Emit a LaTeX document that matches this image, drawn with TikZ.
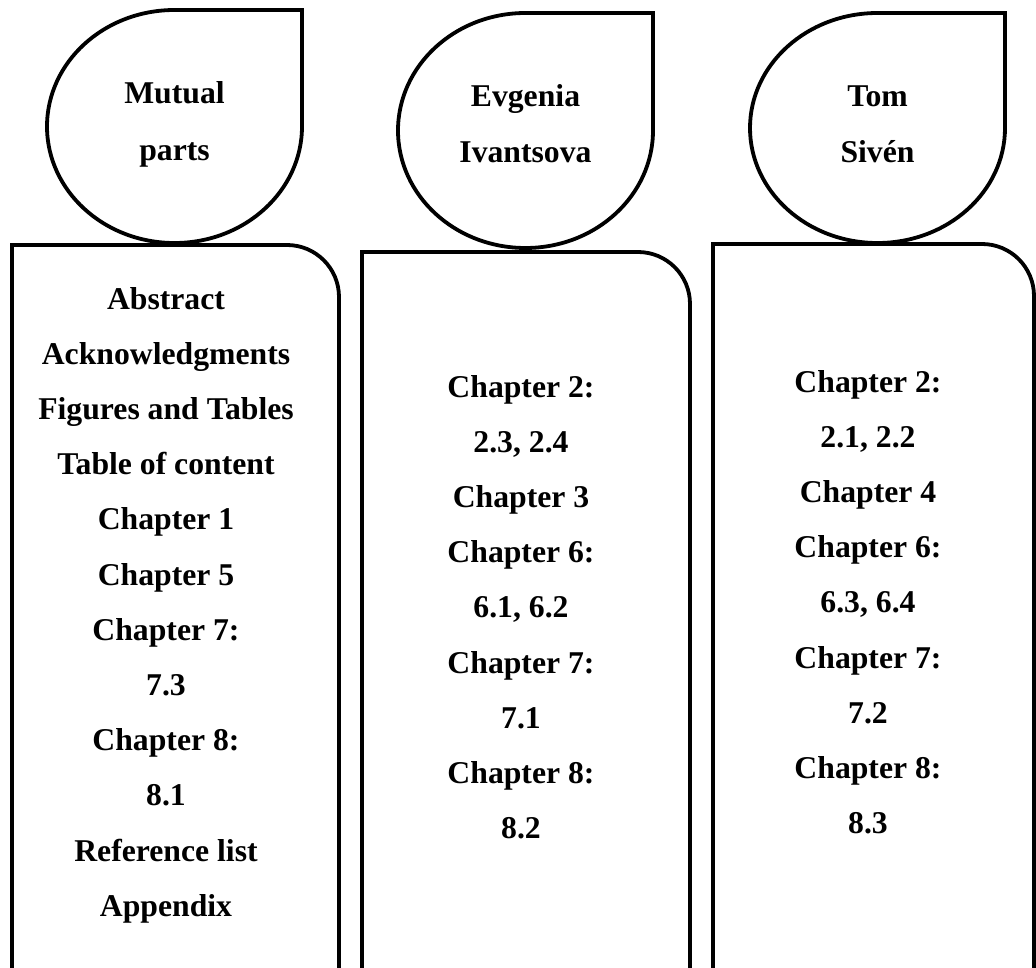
\documentclass[tikz,border=0pt]{standalone}
\usepackage{fontspec}
\setmainfont{Liberation Serif}
\begin{document}
\begin{tikzpicture}[x=1pt,y=-1pt,
  outline/.style={draw=black,line width=3.8pt,line join=miter},
  headtxt/.style={font=\bfseries\fontsize{31.7}{38}\selectfont,anchor=base,inner sep=0pt},
  listtxt/.style={font=\bfseries\fontsize{31.7}{38}\selectfont,anchor=base,inner sep=0pt}]
\clip (0,0) rectangle (1036,968);

% teardrop heads: an ellipse whose upper-right quarter is a square corner
\foreach \cx/\cy/\rx/\ry in {174.5/126.5/127.5/116.5, 525.5/130.5/127.5/117.5, 877.5/128/127.5/115}{
  \draw[outline] (\cx,\cy-\ry) -- (\cx+\rx,\cy-\ry) -- (\cx+\rx,\cy)
    arc[start angle=0,end angle=270,x radius=\rx,y radius=\ry] -- cycle;
}

% open columns with a rounded upper-right corner
\foreach \l/\r/\t in {12/339/245, 362/690/252, 713/1034/244}{
  \draw[outline] (\l,990) -- (\l,\t) -- (\r-52,\t)
    arc[start angle=270,end angle=360,radius=52] -- (\r,990);
}

% head labels
\node[headtxt] (h1a) at (174.5,104) {Mutual};
\node[headtxt] (h1b) at (174.5,161) {parts};
\node[headtxt] (h2a) at (525.5,107) {Evgenia};
\node[headtxt] (h2b) at (525.5,163) {Ivantsova};
\node[headtxt] (h3a) at (877.5,107) {Tom};
\node[headtxt] (h3b) at (877.5,163) {Sivén};

% column contents
\foreach \txt [count=\i] in {Abstract,Acknowledgments,Figures and Tables,Table of content,Chapter 1,Chapter 5,Chapter 7:,7.3,Chapter 8:,8.1,Reference list,Appendix}{
  \node[listtxt] (a\i) at (166,{309+55.2*(\i-1)}) {\txt};
}
\foreach \txt [count=\i] in {Chapter 2:,{2.3, 2.4},Chapter 3,Chapter 6:,{6.1, 6.2},Chapter 7:,7.1,Chapter 8:,8.2}{
  \node[listtxt] (b\i) at (521,{397+55.2*(\i-1)}) {\txt};
}
\foreach \txt [count=\i] in {Chapter 2:,{2.1, 2.2},Chapter 4,Chapter 6:,{6.3, 6.4},Chapter 7:,7.2,Chapter 8:,8.3}{
  \node[listtxt] (c\i) at (868,{392+55.2*(\i-1)}) {\txt};
}
\end{tikzpicture}
\end{document}
